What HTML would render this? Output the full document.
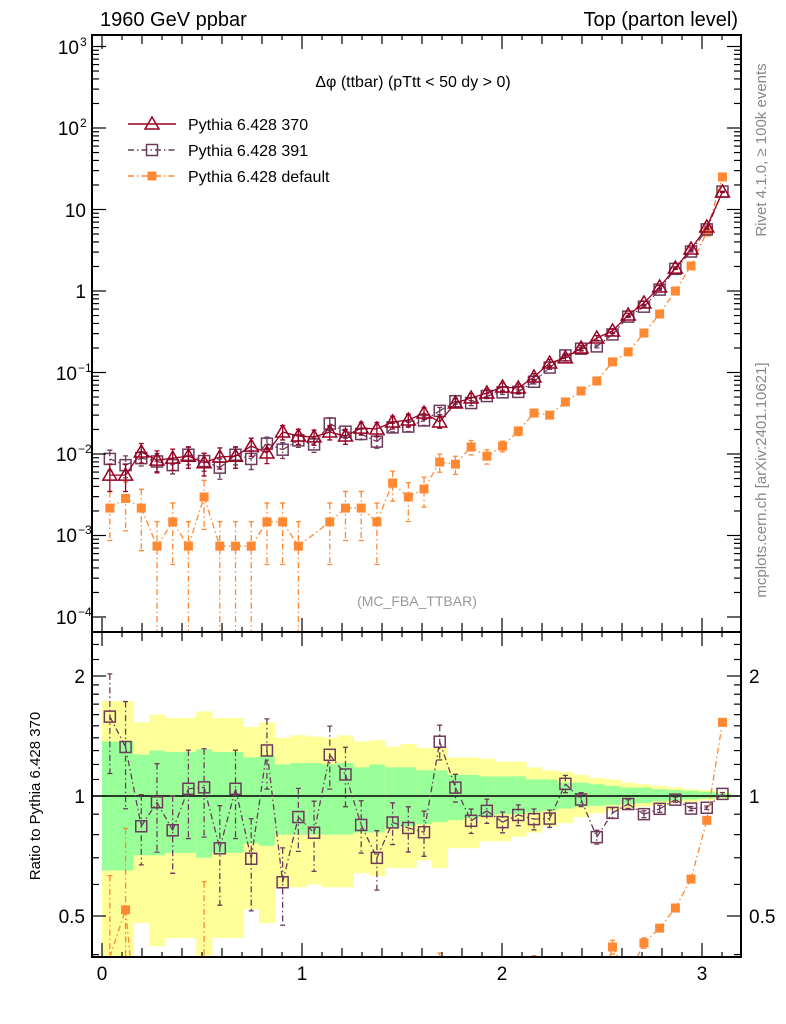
<!DOCTYPE html>
<html><head><meta charset="utf-8"><style>
html,body{margin:0;padding:0;background:#fff;overflow:hidden;width:786px;height:1024px}
svg{display:block;font-family:"Liberation Sans",sans-serif}
</style></head><body>
<svg id="c" width="786" height="1024" viewBox="0 0 786 1024"></svg>
<script>
const v370=[5.5e-3,5.5e-3,1.06e-2,8.4e-3,8.9e-3,9.4e-3,7.8e-3,9.2e-3,9.4e-3,1.25e-2,1.03e-2,1.86e-2,1.66e-2,1.62e-2,1.86e-2,1.66e-2,2.08e-2,2.03e-2,2.47e-2,2.61e-2,3.18e-2,2.47e-2,4.23e-2,4.87e-2,5.6e-2,6.64e-2,6.45e-2,8.8e-2,0.131,0.151,0.2,0.265,0.323,0.508,0.713,1.12,1.91,3.28,6.1,16.4];
const v391=[8.7e-3,7.3e-3,8.9e-3,8.1e-3,7.3e-3,9.8e-3,8.2e-3,6.8e-3,9.8e-3,8.7e-3,1.34e-2,1.13e-2,1.47e-2,1.31e-2,2.36e-2,1.88e-2,1.76e-2,1.42e-2,2.12e-2,2.17e-2,2.58e-2,3.38e-2,4.44e-2,4.22e-2,5.14e-2,5.71e-2,5.78e-2,7.7e-2,0.115,0.162,0.196,0.209,0.293,0.485,0.642,1.04,1.87,3.05,5.7,16.6];
const vDef=[2.17e-3,2.85e-3,2.17e-3,7.4e-4,1.47e-3,7.4e-4,2.97e-3,7.4e-4,7.4e-4,7.4e-4,1.47e-3,1.47e-3,7.4e-4,null,1.47e-3,2.17e-3,2.17e-3,1.47e-3,4.4e-3,2.97e-3,3.72e-3,7.97e-3,7.5e-3,1.22e-2,9.4e-3,1.25e-2,1.91e-2,3.18e-2,3.0e-2,4.35e-2,5.93e-2,7.87e-2,0.135,0.179,0.305,0.522,1.0,2.03,5.3,25.1];
const err391=[0.28,0.30,0.20,0.25,0.22,0.25,0.25,0.28,0.25,0.26,0.20,0.22,0.18,0.20,0.18,0.17,0.15,0.17,0.12,0.13,0.13,0.10,0.08,0.07,0.07,0.06,0.06,0.06,0.05,0.05,0.04,0.04,0.03,0.025,0.02,0.02,0.015,0.012,0.01,0.008];
const errDef=[0.6,0.6,0.7,1,0.7,1,0.6,1,1,1,0.7,0.7,1,0,0.7,0.6,0.6,0.7,0.4,0.5,0.4,0.25,0.25,0.2,0.2,0.15,0.12,0.1,0.1,0.08,0.06,0.05,0.04,0.03,0.03,0.02,0.02,0.015,0.01,0.01];
const yTop=[1.73,1.73,1.53,1.60,1.57,1.57,1.63,1.57,1.57,1.49,1.53,1.40,1.42,1.41,1.40,1.42,1.37,1.38,1.33,1.35,1.32,1.32,1.25,1.25,1.24,1.22,1.22,1.18,1.16,1.15,1.13,1.11,1.10,1.08,1.07,1.06,1.05,1.04,1.035,1.025];
const gTop=[1.37,1.37,1.27,1.30,1.29,1.29,1.31,1.29,1.29,1.25,1.26,1.20,1.21,1.21,1.20,1.21,1.18,1.20,1.18,1.18,1.16,1.16,1.13,1.13,1.12,1.12,1.12,1.10,1.10,1.08,1.08,1.07,1.06,1.05,1.05,1.04,1.035,1.03,1.025,1.015];
const gBot=[0.65,0.65,0.71,0.71,0.72,0.72,0.70,0.72,0.72,0.76,0.75,0.80,0.80,0.80,0.80,0.80,0.81,0.81,0.83,0.84,0.85,0.86,0.87,0.88,0.89,0.90,0.90,0.91,0.92,0.93,0.94,0.945,0.95,0.955,0.96,0.97,0.975,0.98,0.985,0.99];
const yBot=[0.3,0.3,0.48,0.42,0.44,0.44,0.3,0.44,0.44,0.52,0.48,0.59,0.59,0.60,0.59,0.59,0.64,0.63,0.66,0.66,0.69,0.66,0.74,0.74,0.77,0.77,0.79,0.81,0.84,0.855,0.885,0.905,0.92,0.93,0.94,0.95,0.96,0.965,0.975,0.985];
const xTicks=[0,1,2,3];

const S=document.getElementById('c');const NS='http://www.w3.org/2000/svg';
function el(t,a,p){const e=document.createElementNS(NS,t);for(const k in a)e.setAttribute(k,a[k]);(p||S).appendChild(e);return e;}
const L=92,R=741,T=35,M=632,B=957;
const X=x=>102+200*x;
const Y=v=>291-81.5*Math.log10(v);
const YR=r=>796-398.6*Math.log10(r);
const N=v370.length,W=Math.PI/N;
const cx=i=>X((i+0.5)*W);
const cl=(v,a,b)=>Math.max(a,Math.min(b,v));

const gB=el('g',{});

for(let i=0;i<N;i++){
 const x0=X(i*W),x1=X((i+1)*W);
 const a=cl(YR(yTop[i]),M,B),b=cl(YR(yBot[i]),M,B);
 let r=el('rect',{x:x0,y:a,width:x1-x0+0.5,height:b-a,fill:'#ffff99'},gB);
 
 const c=cl(YR(gTop[i]),M,B),d=cl(YR(gBot[i]),M,B);
 r=el('rect',{x:x0,y:c,width:x1-x0+0.5,height:d-c,fill:'#99ff99'},gB);
 
}
let ln=el('line',{x1:L,x2:R,y1:YR(1),y2:YR(1),stroke:'#000','stroke-width':1.5});


function series(vals,errs,color,dash,marker,yf,top,bot,name){
 const g=el('g',{});
 
 // build line segments clipped to panel
 const pts=[];
 vals.forEach((v,i)=>{if(v==null)return;
  const x=cx(i),y=yf(v);pts.push([x,y]);
  const e=errs[i];
  let yu=yf(v*(1+e)),yd=e>=1?bot:yf(v*(1-e));
  const capU=yu>=top&&yu<=bot,capD=e<1&&yd>=top&&yd<=bot;
  yu=cl(yu,top,bot);yd=cl(yd,top,bot);
  if(yd-yu<0.5&&!(capU||capD))return;
  let d=`M${x},${yu}L${x},${yd}`;
  if(capU)d+=`M${x-2.5},${yu}h5`;
  if(capD)d+=`M${x-2.5},${yd}h5`;
  const eb=el('path',{d,stroke:color,'stroke-width':1.3,fill:'none','stroke-dasharray':dash},g);
  
 });
 let d='';
 for(let k=0;k+1<pts.length;k++){
  let [x1,y1]=pts[k],[x2,y2]=pts[k+1];
  if((y1>bot&&y2>bot)||(y1<top&&y2<top))continue;
  const clipPt=(xa,ya,xb,yb)=>{let yc=cl(ya,top,bot);if(yc===ya)return [xa,ya];const t=(yc-ya)/(yb-ya);return [xa+t*(xb-xa),yc];};
  const p1=clipPt(x1,y1,x2,y2),p2=clipPt(x2,y2,x1,y1);
  d+=`M${p1[0]},${p1[1]}L${p2[0]},${p2[1]}`;
 }
 const pl=el('path',{d,fill:'none',stroke:color,'stroke-width':1.3,'stroke-dasharray':dash},g);
 
 pts.forEach(([x,y])=>{if(y<top||y>bot-3)return;drawMarker(g,x,y,marker,color);});
}
function drawMarker(g,x,y,m,color){
 let e;
 if(m==='tri')e=el('path',{d:`M${x},${y-7}L${x+7},${y+5}L${x-7},${y+5}Z`,fill:'none',stroke:color,'stroke-width':1.5},g);
 else if(m==='sq')e=el('rect',{x:x-5.5,y:y-5.5,width:11,height:11,fill:'none',stroke:color,'stroke-width':1.5},g);
 else e=el('rect',{x:x-4.5,y:Math.min(y-4.5,B-9),width:9,height:9,fill:color},g);
 
}
const C370='#990022',C391='#6d3a5c',CD='#ff8833';
series(vDef,errDef,CD,'6 3 1.5 3','fsq',Y,T,M,'series-default');
series(v391,err391,C391,'6 3 1.5 3','sq',Y,T,M,'series-391');
series(v370,gTop.map(g=>g-1),C370,'','tri',Y,T,M,'series-370');
const r391=v391.map((v,i)=>v/v370[i]);
const rDef=vDef.map((v,i)=>v==null?null:v/v370[i]);
series(r391,err391,C391,'6 3 1.5 3','sq',YR,M,B,'ratio-391');
series(rDef,errDef.map(e=>Math.min(e,0.99)),CD,'6 3 1.5 3','fsq',YR,M,B,'ratio-default');

for(const [y0,y1,n] of [[T,M,'main-frame'],[M,B,'ratio-frame']]){
 const f=el('rect',{x:L,y:y0,width:R-L,height:y1-y0,fill:'none',stroke:'#000','stroke-width':2});
 
}
function tick(x1,y1,x2,y2){el('line',{x1,y1,x2,y2,stroke:'#000','stroke-width':1.2});}
for(let k=0;k<=32;k++){const x=X(k/10);if(x>R)break;const big=k%10===0,len=big?14:(k%2===0?9:5);
 tick(x,B,x,B-len);tick(x,M,x,M+len);tick(x,M,x,M-len);tick(x,T,x,T+len);}
xTicks.forEach(t=>{const tx=el('text',{x:X(t),y:980,'font-size':19,'text-anchor':'middle'});tx.textContent=t;
 });
for(let d=-4;d<=3;d++){for(let m=1;m<10;m++){const y=Y(m*Math.pow(10,d));if(y<T||y>M)continue;const len=m===1?14:7;tick(L,y,L+len,y);tick(R,y,R-len,y);}}
const ylab=[['10','3',47],['10','2',128],['10','',210],['1','',291],['10','\u22121',373],['10','\u22122',454],['10','\u22123',535],['10','\u22124',617]];
ylab.forEach(([b,e,y])=>{
 const t=el('text',{x:e?(e.length>1?77:79):86,y:y+7,'font-size':19,'text-anchor':'end'});t.textContent=b;
 
 if(e){const s=el('text',{x:e.length>1?78:80,y:y-1,'font-size':12});s.textContent=e;
  }});
[0.4,0.5,0.6,0.7,0.8,0.9,1,1.1,1.2,1.3,1.4,1.5,1.6,1.7,1.8,1.9,2,2.2,2.4].forEach(r=>{const y=YR(r);if(y<M||y>B)return;const big=(r===0.5||r===1||r===2);const len=big?14:7;tick(L,y,L+len,y);tick(R,y,R-len,y);});
[['2',2],['1',1],['0.5',0.5]].forEach(([s,r])=>{const y=YR(r)+7;
 let t=el('text',{x:85,y,'font-size':19,'text-anchor':'end'});t.textContent=s;
 t=el('text',{x:749,y,'font-size':19});t.textContent=s;});
function txt(s,a,name){const t=el('text',a);t.textContent=s;return t;}
txt('1960 GeV ppbar',{x:100,y:26,'font-size':20},'top-left-label');
txt('Top (parton level)',{x:738,y:26,'font-size':20,'text-anchor':'end'},'top-right-label');
txt('\u0394\u03c6 (ttbar) (pTtt < 50 dy > 0)',{x:413,y:87,'font-size':16,'text-anchor':'middle'},'plot-title');
txt('(MC_FBA_TTBAR)',{x:417,y:606,'font-size':14,'text-anchor':'middle',fill:'#999'},'analysis-label');
txt('Rivet 4.1.0, \u2265 100k events',{x:0,y:0,'font-size':15,fill:'#888','text-anchor':'middle',transform:'translate(766,150) rotate(-90)'},'rivet-label');
txt('mcplots.cern.ch [arXiv:2401.10621]',{x:0,y:0,'font-size':15,fill:'#888','text-anchor':'middle',transform:'translate(766,480) rotate(-90)'},'mcplots-label');
txt('Ratio to Pythia 6.428 370',{x:0,y:0,'font-size':15,'text-anchor':'middle',transform:'translate(40,796) rotate(-90)'},'ratio-y-axis-title');
const leg=[['Pythia 6.428 370',C370,'','tri'],['Pythia 6.428 391',C391,'6 3 1.5 3','sq'],['Pythia 6.428 default',CD,'6 3 1.5 3','fsq']];
leg.forEach(([s,c,d,m],k)=>{const y=124+k*26;const g=el('g',{});
 el('line',{x1:128,x2:176,y1:y,y2:y,stroke:c,'stroke-width':1.5,'stroke-dasharray':d},g);drawMarker(g,152,y,m,c);
 const t=el('text',{x:188,y:y+6,'font-size':16},g);t.textContent=s;});
</script>
</body></html>
